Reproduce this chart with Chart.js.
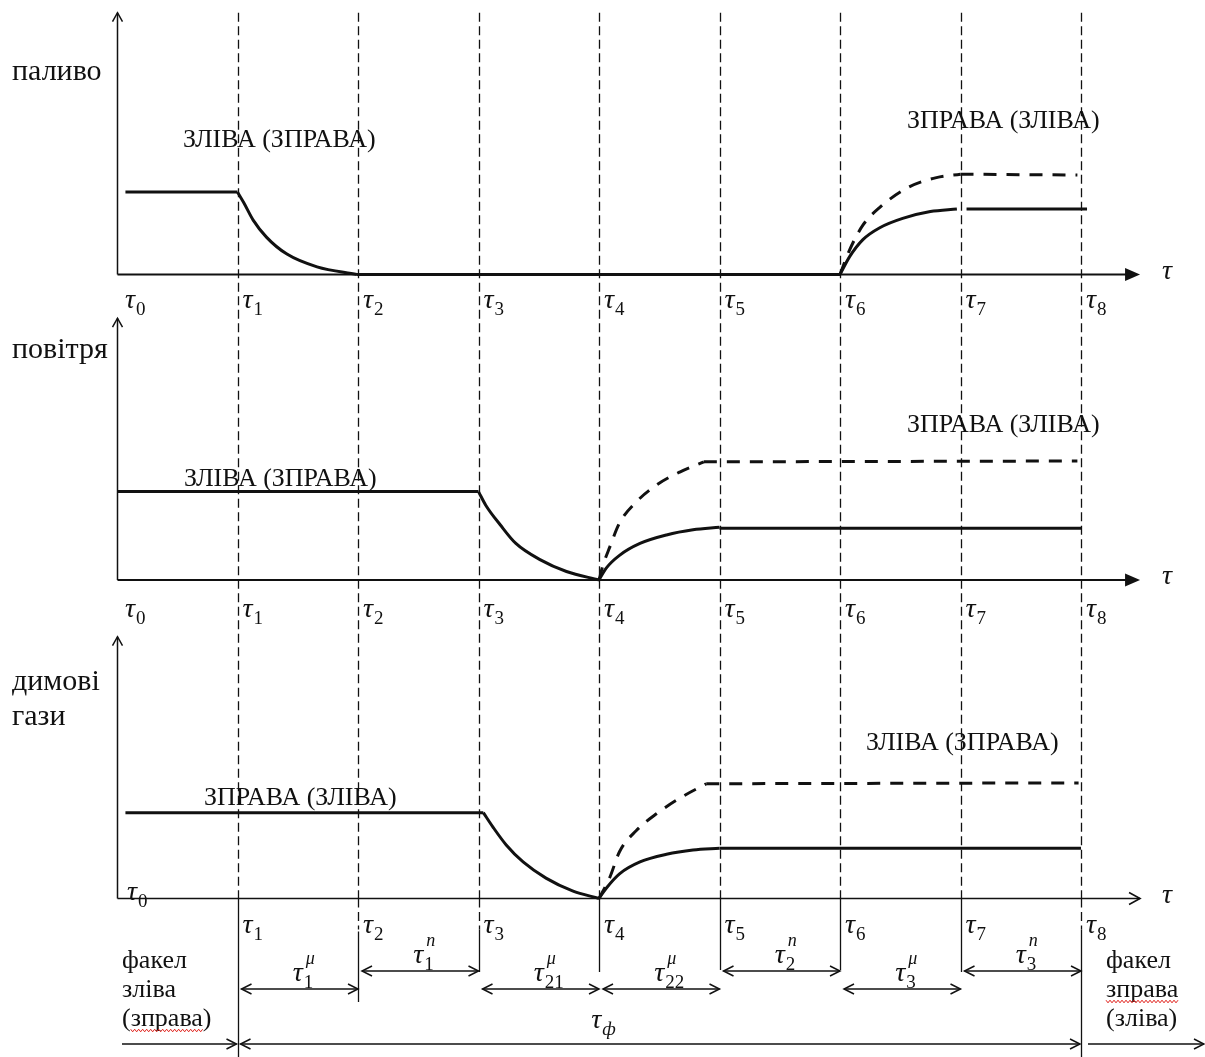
<!DOCTYPE html>
<html lang="uk">
<head>
<meta charset="UTF-8">
<title>Цикл перемикання факела: паливо, повітря, димові гази</title>
<script src="https://cdn.jsdelivr.net/npm/chart.js@4.4.1/dist/chart.umd.min.js"></script>
<style>
  html, body { margin: 0; padding: 0; background: #fff; }
  #wrap { width: 1205px; height: 1057px; }
</style>
</head>
<body>
<div id="wrap"><canvas id="cycle" width="1205" height="1057"></canvas></div>
<script>
// моменти перемикань τ0 … τ8
const tauMarks = [0, 1, 2, 3, 4, 5, 6, 7, 8];
const tauSubs = ['0', '1', '2', '3', '4', '5', '6', '7', '8'];

// назви графіків та підписи кривих
const panelNames = [['паливо'], ['повітря'], ['димові', 'гази']];
const captionsLeft = ['ЗЛІВА (ЗПРАВА)', 'ЗЛІВА (ЗПРАВА)', 'ЗПРАВА (ЗЛІВА)'];
const captionsRight = ['ЗПРАВА (ЗЛІВА)', 'ЗПРАВА (ЗЛІВА)', 'ЗЛІВА (ЗПРАВА)'];

// паливо: [τ, рівень]
const fuelLeft = [[0.07, 0.97], [1.0, 0.97]];
const fuelDrop = [[1.0, 0.97], [1.05, 0.85], [1.13, 0.64], [1.24, 0.44], [1.41, 0.24], [1.66, 0.09], [1.99, 0]];
const fuelPause = [[1.99, 0], [6.0, 0]];
const fuelRise = [[6.0, 0], [6.08, 0.21], [6.19, 0.41], [6.33, 0.55], [6.52, 0.66], [6.75, 0.74], [6.97, 0.77]];
const fuelRight = [[7.05, 0.77], [8.05, 0.77]];
const fuelRiseAlt = [[6.0, 0], [6.08, 0.29], [6.19, 0.58], [6.33, 0.79], [6.56, 1.02], [6.80, 1.14], [7.0, 1.18]];
const fuelRightAlt = [[7.0, 1.18], [7.97, 1.17]];

// повітря
const airLeft = [[0.0, 1.04], [3.0, 1.04]];
const airDrop = [[3.0, 1.04], [3.06, 0.88], [3.18, 0.65], [3.31, 0.43], [3.51, 0.24], [3.73, 0.10], [4.0, 0]];
const airRise = [[4.0, 0], [4.06, 0.14], [4.17, 0.29], [4.34, 0.43], [4.56, 0.53], [4.78, 0.59], [5.0, 0.62]];
const airRight = [[5.0, 0.61], [8.0, 0.61]];
const airRiseAlt = [[4.0, 0], [4.03, 0.16], [4.09, 0.39], [4.17, 0.67], [4.31, 0.92], [4.48, 1.12], [4.67, 1.27], [4.87, 1.39]];
const airRightAlt = [[4.87, 1.39], [7.97, 1.40]];

// димові гази
const gasLeft = [[0.07, 1.01], [3.04, 1.01]];
const gasDrop = [[3.04, 1.01], [3.12, 0.84], [3.23, 0.63], [3.37, 0.43], [3.56, 0.24], [3.78, 0.09], [4.0, 0]];
const gasRise = [[4.0, 0], [4.06, 0.12], [4.17, 0.29], [4.34, 0.43], [4.56, 0.52], [4.78, 0.57], [5.0, 0.59]];
const gasRight = [[5.0, 0.59], [8.0, 0.59]];
const gasRiseAlt = [[4.0, 0], [4.09, 0.25], [4.17, 0.55], [4.31, 0.80], [4.48, 1.0], [4.67, 1.18], [4.89, 1.35]];
const gasRightAlt = [[4.89, 1.35], [7.98, 1.36]];

// інтервали під діаграмою
const spanFrom = [1, 2, 3, 4, 5, 6, 7];
const spanTo = [2, 3, 4, 5, 6, 7, 8];
const spanSub = ['1', '1', '21', '22', '2', '3', '3'];
const spanSup = ['μ', 'n', 'μ', 'μ', 'n', 'μ', 'n'];
const spanHigh = [false, true, false, false, true, false, true];

// ---- розкладка ----
const W = 1205, H = 1057;
const X_MIN = -0.971, X_MAX = 9.029;
const PX_PER_UNIT = 85;
const panelBaseline = [274.5, 580, 898.5];
const AXIS_TOP = 3.08;     // верх осей ординат
const AXIS_END = 8.49;     // кінець осі часу
const FONT = '"Liberation Serif", "Times New Roman", serif';
const INK = '#111';

const nameDy = [[-194.5], [-222], [-208.5, -173.5]];
const captionLeftPos = [[0.548, -127.5], [0.556, -94], [0.722, -93.5]];
const captionRightPos = [[6.556, -146.5], [6.556, -148], [6.216, -148.5]];
const tickRowDy = [33, 37];

function yRange(base) {
  return { min: -(H - base) / PX_PER_UNIT, max: base / PX_PER_UNIT };
}

function seg(points, axis, dashed) {
  return {
    data: points.map(p => ({ x: p[0], y: p[1] })),
    yAxisID: axis,
    borderColor: INK,
    borderWidth: 3,
    borderDash: dashed ? [13, 10] : [],
    borderCapStyle: 'butt',
    pointRadius: 0,
    fill: false,
    tension: 0,
    cubicInterpolationMode: points.length > 2 ? 'monotone' : 'default'
  };
}

function line(ctx, x0, y0, x1, y1) {
  ctx.beginPath();
  ctx.moveTo(x0, y0);
  ctx.lineTo(x1, y1);
  ctx.stroke();
}

// відкритий наконечник стрілки, dir = 1 вправо, -1 вліво
function openHead(ctx, x, y, dir, len, half) {
  ctx.beginPath();
  ctx.moveTo(x - dir * len, y - half);
  ctx.lineTo(x, y);
  ctx.lineTo(x - dir * len, y + half);
  ctx.stroke();
}

function filledHead(ctx, x, y, len, half) {
  ctx.beginPath();
  ctx.moveTo(x, y);
  ctx.lineTo(x - len, y - half);
  ctx.lineTo(x - len, y + half);
  ctx.closePath();
  ctx.fill();
}

function drawTau(ctx, x, y, sub, sup, subItalic) {
  ctx.font = 'italic 28px ' + FONT;
  ctx.fillText('τ', x, y);
  const w = ctx.measureText('τ').width;
  if (sub) {
    ctx.font = (subItalic ? 'italic ' : '') + '19px ' + FONT;
    ctx.fillText(sub, x + w + 1, y + 7);
  }
  if (sup) {
    ctx.font = 'italic 18px ' + FONT;
    ctx.fillText(sup, x + w + 3, y - 17);
  }
}

function squiggle(ctx, x0, x1, y) {
  ctx.beginPath();
  let k = 0;
  for (let xx = x0; xx <= x1; xx += 2, k++) {
    const yy = y + (k % 2 ? 1.3 : -1.3);
    if (k === 0) ctx.moveTo(xx, yy); else ctx.lineTo(xx, yy);
  }
  ctx.stroke();
}

const schemePlugin = {
  id: 'scheme',
  beforeDatasetsDraw(chart) {
    const { ctx, scales } = chart;
    const sx = scales.x;
    const px = t => sx.getPixelForValue(t);
    const axes = [scales.y1, scales.y2, scales.y3];
    ctx.save();
    ctx.strokeStyle = INK;
    ctx.fillStyle = INK;

    // штрихові вертикалі τ1 … τ8
    const top = axes[0].getPixelForValue(AXIS_TOP);
    const base3 = axes[2].getPixelForValue(0);
    ctx.lineWidth = 1.3;
    ctx.setLineDash([9, 4.5]);
    tauMarks.slice(1).forEach(t => {
      const x = Math.round(px(t)) + 0.5;
      line(ctx, x, top, x, base3);
    });
    // продовження під діаграмою
    [2, 3, 8].forEach(t => {
      const x = Math.round(px(t)) + 0.5;
      line(ctx, x, base3, x, base3 + 31);
    });
    ctx.setLineDash([]);
    const extent = { 1: [0, 158.5], 2: [33, 103.5], 3: [31, 73.5], 4: [0, 73.5], 5: [0, 71.5], 6: [0, 71.5], 7: [0, 73.5], 8: [31, 158.5] };
    Object.keys(extent).forEach(k => {
      const x = Math.round(px(+k)) + 0.5;
      line(ctx, x, base3 + extent[k][0], x, base3 + extent[k][1]);
    });

    // осі
    axes.forEach((ys, i) => {
      const b = ys.getPixelForValue(0);
      const t = ys.getPixelForValue(AXIS_TOP);
      const x0 = Math.round(px(0)) + 0.5;
      ctx.lineWidth = 1.5;
      line(ctx, x0, b, x0, t);
      ctx.beginPath();
      ctx.moveTo(x0 - 5, t + 9);
      ctx.lineTo(x0, t);
      ctx.lineTo(x0 + 5, t + 9);
      ctx.stroke();
      const xe = px(AXIS_END);
      if (i < 2) {
        ctx.lineWidth = 2.2;
        line(ctx, x0, b, xe - 12, b);
        filledHead(ctx, xe, b, 15, 6.5);
      } else {
        ctx.lineWidth = 1.6;
        line(ctx, x0, b, xe, b);
        openHead(ctx, xe, b, 1, 11, 6);
      }
    });
    ctx.restore();
  },
  afterDatasetsDraw(chart) {
    const { ctx, scales } = chart;
    const sx = scales.x;
    const px = t => sx.getPixelForValue(t);
    const axes = [scales.y1, scales.y2, scales.y3];
    ctx.save();
    ctx.fillStyle = INK;
    ctx.strokeStyle = INK;
    ctx.textBaseline = 'alphabetic';
    ctx.textAlign = 'left';

    axes.forEach((ys, i) => {
      const b = ys.getPixelForValue(0);
      // назва величини
      ctx.font = '30px ' + FONT;
      panelNames[i].forEach((n, j) => ctx.fillText(n, 12, b + nameDy[i][j]));
      // підписи кривих
      ctx.font = '26px ' + FONT;
      ctx.fillText(captionsLeft[i], px(captionLeftPos[i][0]), b + captionLeftPos[i][1]);
      ctx.fillText(captionsRight[i], px(captionRightPos[i][0]), b + captionRightPos[i][1]);
      // τ на кінці осі
      ctx.font = 'italic 28px ' + FONT;
      ctx.fillText('τ', px(AXIS_END) + 22, b + 4);
      // мітки моментів
      if (i < 2) {
        tauMarks.forEach((t, k) => drawTau(ctx, px(t) + (k === 0 ? 8 : 5), b + tickRowDy[i], tauSubs[k]));
      } else {
        drawTau(ctx, px(0) + 10, b + 1, tauSubs[0]);
        tauMarks.slice(1).forEach((t, k) => drawTau(ctx, px(t) + 5, b + 34.5, tauSubs[k + 1]));
      }
    });

    // інтервали
    const base3 = axes[2].getPixelForValue(0);
    ctx.lineWidth = 1.5;
    spanFrom.forEach((f, k) => {
      const y = base3 + (spanHigh[k] ? 72.5 : 90.5);
      const x0 = px(f) + 4, x1 = px(spanTo[k]);
      line(ctx, x0, y, x1, y);
      openHead(ctx, x0, y, -1, 10, 5);
      openHead(ctx, x1, y, 1, 10, 5);
      const mid = (px(f) + px(spanTo[k])) / 2;
      drawTau(ctx, mid - 5, y - 8, spanSub[k], spanSup[k]);
    });

    // повна тривалість τф
    const yF = base3 + 145.5;
    line(ctx, px(1) + 3, yF, px(8) - 1, yF);
    openHead(ctx, px(1) + 3, yF, -1, 10, 5);
    openHead(ctx, px(8) - 1, yF, 1, 10, 5);
    drawTau(ctx, px(3.935), yF - 16, 'ф', null, true);
    // вхід і вихід
    line(ctx, px(0) + 5, yF, px(1) - 1, yF);
    openHead(ctx, px(1) - 1, yF, 1, 10, 5);
    line(ctx, px(8) + 7, yF, W - 1, yF);
    openHead(ctx, W - 1, yF, 1, 10, 5);

    // примітки про факел
    ctx.font = '26px ' + FONT;
    const lx = px(0) + 5, rx = px(8) + 25;
    ['факел', 'зліва', '(зправа)'].forEach((s, j) => ctx.fillText(s, lx, base3 + [69.5, 98.5, 127.5][j]));
    ['факел', 'зправа', '(зліва)'].forEach((s, j) => ctx.fillText(s, rx, base3 + [69.5, 98.5, 127.5][j]));
    ctx.strokeStyle = '#e0201a';
    ctx.lineWidth = 1;
    const pw = ctx.measureText('(').width;
    squiggle(ctx, lx + pw, lx + ctx.measureText('(зправа').width, base3 + 132);
    squiggle(ctx, rx, rx + ctx.measureText('зправа').width, base3 + 103);
    ctx.restore();
  }
};

new Chart(document.getElementById('cycle'), {
  type: 'line',
  data: {
    datasets: [
      seg(fuelLeft, 'y1'), seg(fuelDrop, 'y1'), seg(fuelPause, 'y1'),
      seg(fuelRise, 'y1'), seg(fuelRight, 'y1'),
      seg(fuelRiseAlt, 'y1', true), seg(fuelRightAlt, 'y1', true),
      seg(airLeft, 'y2'), seg(airDrop, 'y2'), seg(airRise, 'y2'), seg(airRight, 'y2'),
      seg(airRiseAlt, 'y2', true), seg(airRightAlt, 'y2', true),
      seg(gasLeft, 'y3'), seg(gasDrop, 'y3'), seg(gasRise, 'y3'), seg(gasRight, 'y3'),
      seg(gasRiseAlt, 'y3', true), seg(gasRightAlt, 'y3', true)
    ]
  },
  options: {
    responsive: false,
    animation: false,
    devicePixelRatio: 1,
    events: [],
    layout: { padding: 0 },
    plugins: { legend: { display: false }, tooltip: { enabled: false } },
    scales: {
      x: { type: 'linear', min: X_MIN, max: X_MAX, display: false },
      y1: Object.assign({ type: 'linear', display: false }, yRange(panelBaseline[0])),
      y2: Object.assign({ type: 'linear', display: false }, yRange(panelBaseline[1])),
      y3: Object.assign({ type: 'linear', display: false }, yRange(panelBaseline[2]))
    }
  },
  plugins: [schemePlugin]
});
</script>
</body>
</html>
